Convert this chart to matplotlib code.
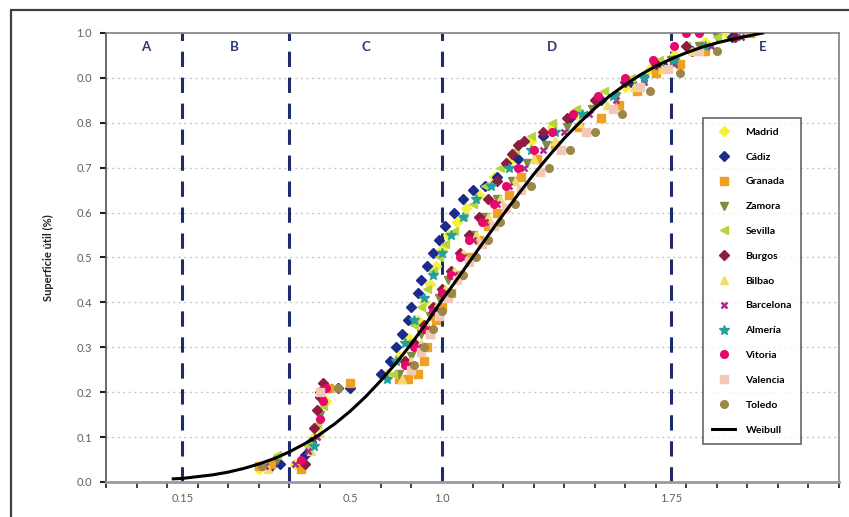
import numpy as np
import matplotlib
matplotlib.use("Agg")
import matplotlib.pyplot as plt
from matplotlib.patches import Rectangle

plt.rcParams['font.family'] = ['Lato', 'DejaVu Sans']

# --- data ---
madrid_x = [0.40, 0.52, 0.58, 0.60, 0.62, 0.70, 0.82, 0.86, 0.89, 0.92, 0.94, 0.96, 0.98, 1.00, 1.02, 1.05, 1.08, 1.12, 1.17, 1.23, 1.29, 1.36, 1.44, 1.52, 1.60, 1.68, 1.76, 1.86, 1.93]
madrid_y = [0.03, 0.04, 0.10, 0.14, 0.18, 0.21, 0.24, 0.28, 0.32, 0.36, 0.40, 0.44, 0.48, 0.52, 0.55, 0.58, 0.61, 0.64, 0.68, 0.72, 0.76, 0.79, 0.82, 0.85, 0.88, 0.92, 0.95, 0.98, 1.00]

cadiz_x = [0.44, 0.47, 0.55, 0.57, 0.60, 0.66, 0.70, 0.80, 0.83, 0.85, 0.87, 0.89, 0.90, 0.92, 0.93, 0.95, 0.97, 0.99, 1.01, 1.04, 1.07, 1.10, 1.14, 1.18, 1.25, 1.33, 1.42, 1.52, 1.62, 1.72, 1.82, 1.95]
cadiz_y = [0.035, 0.04, 0.06, 0.09, 0.20, 0.21, 0.21, 0.24, 0.27, 0.30, 0.33, 0.36, 0.39, 0.42, 0.45, 0.48, 0.51, 0.54, 0.57, 0.60, 0.63, 0.65, 0.66, 0.68, 0.72, 0.77, 0.81, 0.85, 0.89, 0.93, 0.96, 0.99]

granada_x = [0.40, 0.44, 0.54, 0.63, 0.70, 0.86, 0.89, 0.92, 0.94, 0.95, 0.96, 0.98, 1.00, 1.03, 1.06, 1.09, 1.12, 1.15, 1.18, 1.22, 1.26, 1.31, 1.37, 1.45, 1.52, 1.58, 1.64, 1.70, 1.78, 1.86, 2.01]
granada_y = [0.035, 0.04, 0.03, 0.21, 0.22, 0.23, 0.23, 0.24, 0.27, 0.30, 0.33, 0.36, 0.39, 0.42, 0.46, 0.50, 0.54, 0.57, 0.60, 0.64, 0.68, 0.72, 0.75, 0.79, 0.81, 0.84, 0.87, 0.91, 0.93, 0.96, 1.00]

zamora_x = [0.46, 0.57, 0.60, 0.86, 0.90, 0.93, 0.96, 0.99, 1.02, 1.06, 1.10, 1.14, 1.18, 1.23, 1.28, 1.34, 1.41, 1.49, 1.57, 1.66, 1.75, 1.84, 1.90]
zamora_y = [0.05, 0.08, 0.15, 0.24, 0.28, 0.33, 0.37, 0.41, 0.45, 0.50, 0.55, 0.59, 0.63, 0.67, 0.71, 0.75, 0.79, 0.83, 0.86, 0.90, 0.94, 0.97, 0.99]

sevilla_x = [0.46, 0.56, 0.59, 0.61, 0.84, 0.87, 0.89, 0.91, 0.93, 0.95, 0.97, 0.99, 1.01, 1.04, 1.07, 1.10, 1.14, 1.19, 1.24, 1.29, 1.36, 1.44, 1.53, 1.62, 1.71, 1.80, 1.90]
sevilla_y = [0.06, 0.08, 0.13, 0.17, 0.24, 0.27, 0.31, 0.35, 0.39, 0.43, 0.47, 0.50, 0.53, 0.56, 0.59, 0.62, 0.66, 0.70, 0.74, 0.77, 0.80, 0.83, 0.87, 0.90, 0.94, 0.97, 0.99]

burgos_x = [0.55, 0.58, 0.59, 0.60, 0.61, 0.88, 0.91, 0.94, 0.97, 1.00, 1.03, 1.06, 1.09, 1.12, 1.15, 1.18, 1.21, 1.23, 1.25, 1.27, 1.33, 1.41, 1.50, 1.60, 1.70, 1.80, 1.96]
burgos_y = [0.04, 0.12, 0.16, 0.19, 0.22, 0.27, 0.31, 0.35, 0.39, 0.43, 0.47, 0.51, 0.55, 0.59, 0.63, 0.67, 0.71, 0.73, 0.75, 0.76, 0.78, 0.81, 0.85, 0.89, 0.93, 0.97, 0.99]

bilbao_x = [0.43, 0.57, 0.60, 0.87, 0.90, 0.93, 0.95, 0.98, 1.01, 1.04, 1.07, 1.11, 1.15, 1.19, 1.24, 1.30, 1.37, 1.45, 1.54, 1.63, 1.72, 1.82]
bilbao_y = [0.03, 0.07, 0.11, 0.23, 0.27, 0.31, 0.35, 0.39, 0.43, 0.47, 0.51, 0.55, 0.59, 0.63, 0.67, 0.72, 0.76, 0.80, 0.84, 0.88, 0.92, 0.96]

barcelona_x = [0.42, 0.52, 0.56, 0.59, 0.89, 0.92, 0.95, 0.98, 1.01, 1.04, 1.07, 1.10, 1.14, 1.18, 1.22, 1.27, 1.33, 1.40, 1.48, 1.57, 1.66, 1.76, 1.88, 1.98]
barcelona_y = [0.035, 0.04, 0.07, 0.10, 0.26, 0.30, 0.34, 0.38, 0.42, 0.46, 0.50, 0.54, 0.58, 0.62, 0.66, 0.70, 0.74, 0.78, 0.82, 0.85, 0.89, 0.93, 0.97, 0.99]

almeria_x = [0.58, 0.82, 0.85, 0.88, 0.91, 0.94, 0.97, 1.00, 1.03, 1.07, 1.11, 1.16, 1.22, 1.29, 1.37, 1.46, 1.56, 1.66, 1.76, 1.86]
almeria_y = [0.08, 0.23, 0.27, 0.31, 0.36, 0.41, 0.46, 0.51, 0.55, 0.59, 0.63, 0.66, 0.70, 0.74, 0.78, 0.82, 0.86, 0.90, 0.94, 0.97]

vitoria_x = [0.54, 0.60, 0.61, 0.62, 0.88, 0.91, 0.94, 0.97, 1.00, 1.03, 1.06, 1.09, 1.13, 1.17, 1.21, 1.25, 1.30, 1.36, 1.43, 1.51, 1.60, 1.69, 1.76, 1.80, 1.84]
vitoria_y = [0.05, 0.14, 0.18, 0.21, 0.26, 0.30, 0.34, 0.38, 0.42, 0.46, 0.50, 0.54, 0.58, 0.62, 0.66, 0.70, 0.74, 0.78, 0.82, 0.86, 0.90, 0.94, 0.97, 1.00, 1.00]

valencia_x = [0.60, 0.90, 0.93, 0.96, 0.99, 1.02, 1.05, 1.09, 1.13, 1.17, 1.21, 1.26, 1.32, 1.39, 1.47, 1.56, 1.65, 1.74, 1.84]
valencia_y = [0.20, 0.25, 0.29, 0.33, 0.37, 0.41, 0.45, 0.49, 0.53, 0.57, 0.61, 0.65, 0.69, 0.74, 0.78, 0.83, 0.88, 0.92, 0.96]

toledo_x = [0.41, 0.66, 0.91, 0.94, 0.97, 1.00, 1.03, 1.07, 1.11, 1.15, 1.19, 1.24, 1.29, 1.35, 1.42, 1.50, 1.59, 1.68, 1.78, 1.90]
toledo_y = [0.035, 0.21, 0.26, 0.30, 0.34, 0.38, 0.42, 0.46, 0.50, 0.54, 0.58, 0.62, 0.66, 0.70, 0.74, 0.78, 0.82, 0.87, 0.91, 0.96]

weibull_x = [0.12, 0.15, 0.2, 0.25, 0.3, 0.35, 0.4, 0.45, 0.5, 0.55, 0.6, 0.65, 0.7, 0.75, 0.8, 0.85, 0.9, 0.95,
             1.0, 1.05, 1.1, 1.15, 1.2, 1.25, 1.3, 1.35, 1.4, 1.45, 1.5, 1.55, 1.6, 1.65, 1.7, 1.75, 1.8, 1.85,
             1.9, 1.95, 2.0, 2.05]
weibull_y = [0.007, 0.008, 0.012, 0.016, 0.022, 0.030, 0.040, 0.052, 0.067, 0.085, 0.106, 0.130, 0.158, 0.190,
             0.226, 0.265, 0.308, 0.355, 0.405, 0.452, 0.500, 0.548, 0.595, 0.641, 0.685, 0.726, 0.765, 0.800,
             0.832, 0.860, 0.885, 0.907, 0.926, 0.942, 0.956, 0.968, 0.978, 0.986, 0.993, 1.0]

zone_lines = [0.15, 0.5, 1.0, 1.75]
zone_names = ['A', 'B', 'C', 'D', 'E']
zone_label_x = [0.03, 0.32, 0.75, 1.36, 2.05]

xtick_pos = [0.15, 0.70, 1.0, 1.75]
xtick_lab = ['0.15', '0.5', '1.0', '1.75']
ytick_pos = [0.0, 0.1, 0.2, 0.3, 0.4, 0.5, 0.6, 0.7, 0.8, 0.9, 1.0]
ytick_lab = ['0.0', '0.1', '0.2', '0.3', '0.4', '0.5', '0.6', '0.7', '0.8', '0.0', '1.0']

series = [
    ('Madrid', madrid_x, madrid_y, '#f6f03a', 'D', 5),
    ('Cádiz', cadiz_x, cadiz_y, '#1c2a8a', 'D', 5),
    ('Granada', granada_x, granada_y, '#f0a020', 's', 5.5),
    ('Zamora', zamora_x, zamora_y, '#7f8a45', 'v', 5.5),
    ('Sevilla', sevilla_x, sevilla_y, '#b8d43a', '<', 5.5),
    ('Burgos', burgos_x, burgos_y, '#8e1c42', 'D', 5),
    ('Bilbao', bilbao_x, bilbao_y, '#f2dc6a', '^', 5.5),
    ('Barcelona', barcelona_x, barcelona_y, '#a3308f', 'x', 5),
    ('Almería', almeria_x, almeria_y, '#23a09c', '*', 7),
    ('Vitoria', vitoria_x, vitoria_y, '#e8076f', 'o', 5.5),
    ('Valencia', valencia_x, valencia_y, '#f3c9b6', 's', 5.5),
    ('Toledo', toledo_x, toledo_y, '#9b8848', 'o', 5.5),
]

fig = plt.figure(figsize=(8.49, 5.17), dpi=100)
ax = fig.add_axes([0.1249, 0.0677, 0.8633, 0.8685])

# grid
for yv in ytick_pos[1:-1]:
    ax.axhline(yv, color='#c8c8c8', lw=1.0, ls=(0, (1.5, 2.5)), zorder=0)

# zone separators
for xv in zone_lines:
    ax.plot([xv, xv], [0, 1], color='#1f2a6b', lw=2.2, ls=(0, (5, 3.5)), zorder=1)
for name, xv in zip(zone_names, zone_label_x):
    ax.text(xv, 0.968, name, color='#2b3775', fontsize=9.5, fontweight='bold',
            ha='center', va='center')

for name, xs, ys, col, mk, ms in series:
    if mk == 'x':
        ax.plot(xs, ys, ls='none', marker=mk, ms=ms, color=col, mew=1.8, label=name, zorder=3)
    else:
        ax.plot(xs, ys, ls='none', marker=mk, ms=ms, color=col, mec=col, label=name, zorder=3)

ax.plot(weibull_x, weibull_y, color='black', lw=2.2, label='Weibull', zorder=4)

ax.set_xlim(-0.1, 2.3)
ax.set_ylim(0, 1.0)

ax.set_xticks(xtick_pos)
ax.set_xticklabels(xtick_lab)
ax.set_xticks(np.arange(-0.1, 2.31, 0.1), minor=True)
ax.tick_params(axis='x', which='major', length=0, pad=8, labelsize=8, labelcolor='#606060')
ax.tick_params(axis='x', which='minor', length=4, width=1.2, color='#202020', direction='out')
ax.set_yticks(ytick_pos)
ax.set_yticklabels(ytick_lab)
ax.tick_params(axis='y', length=4, width=1.5, color='#202020', direction='out',
               labelsize=8, labelcolor='#606060', pad=6)

for s in ['top', 'right']:
    ax.spines[s].set_color('#808080')
    ax.spines[s].set_linewidth(1.2)
ax.spines['left'].set_color('#505050')
ax.spines['left'].set_linewidth(1.2)
ax.spines['bottom'].set_color('#9a9aa0')
ax.spines['bottom'].set_linewidth(2.0)

ax.set_ylabel('Superficie útil (%)', fontsize=8, fontweight='bold', color='#202020', labelpad=16)

leg = ax.legend(loc='upper left', bbox_to_anchor=(0.807, 0.822),
                labelspacing=1.49, handlelength=2.2, handletextpad=1.0,
                borderpad=0.9, frameon=True, fancybox=False, prop={'weight': 'bold', 'size': 7.5})
leg.get_frame().set_edgecolor('#404040')
leg.get_frame().set_linewidth(1.2)

# outer frame of the figure
fig.patches.append(Rectangle((11 / 849, -0.05), 1.0, 1 - 10 / 517 + 0.05,
                             transform=fig.transFigure, fill=False,
                             edgecolor='#404040', lw=1.6))

fig.savefig('out.png', dpi=100)
